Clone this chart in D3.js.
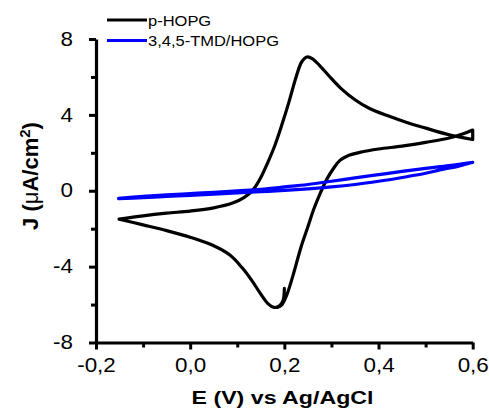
<!DOCTYPE html>
<html><head><meta charset="utf-8">
<script src="https://cdn.jsdelivr.net/npm/d3@7"></script>
<style>body{margin:0;background:#fff}</style>
</head><body><svg id="c" width="489" height="410"></svg>
<script>
const xTicks=[-0.2,0,0.2,0.4,0.6];
const xMinor=[-0.1,0.1,0.3,0.5];
const yTicks=[-8,-4,0,4,8];
const yMinor=[-6,-2,2,6];
const seriesNames=["p-HOPG","3,4,5-TMD/HOPG"];
const seriesColors=["#000000","#0000ff"];

// p-HOPG: cathodic start, anodic sweep, return sweep
const hopgE=[0.2,0.197,0.188,0.178,0.165,0.15,0.13,0.11,0.085,0.05,0.0,-0.05,-0.1,-0.151,
 -0.1,-0.05,0.0,0.05,0.09,0.115,0.135,0.15,0.165,0.18,0.195,0.21,0.225,0.237,0.248,0.26,0.275,0.295,0.32,0.35,0.38,0.42,0.46,0.5,0.55,0.6,
 0.6,0.58,0.55,0.5,0.45,0.4,0.36,0.335,0.318,0.305,0.29,0.275,0.262,0.25,0.235,0.218,0.205,0.195,0.185];
const hopgJ=[-5.15,-5.8,-6.1,-6.15,-5.95,-5.45,-4.7,-4.05,-3.4,-2.9,-2.45,-2.1,-1.8,-1.5,
 -1.32,-1.18,-1.07,-0.9,-0.65,-0.35,0.1,0.7,1.5,2.4,3.5,4.7,6.0,6.8,7.05,6.95,6.6,6.05,5.4,4.8,4.35,3.95,3.6,3.3,2.95,2.7,
 3.2,3.0,2.78,2.55,2.35,2.2,2.02,1.85,1.6,1.2,0.6,-0.2,-1.0,-1.9,-3.0,-4.5,-5.5,-6.0,-6.15];
const hopgBreaks=[0,13,39,40,59]; // sweep vertices

const tmdE=[-0.152,-0.1,-0.05,0,0.05,0.1,0.15,0.2,0.25,0.3,0.35,0.4,0.45,0.5,0.55,0.6,
 0.57,0.53,0.5,0.45,0.4,0.35,0.3,0.25,0.2,0.15,0.1,0.05,0,-0.05,-0.1,-0.152];
const tmdJ=[-0.4,-0.3,-0.22,-0.15,-0.08,0.0,0.08,0.2,0.33,0.5,0.68,0.85,1.02,1.18,1.32,1.5,
 1.3,1.1,0.92,0.7,0.5,0.33,0.2,0.1,0.02,-0.05,-0.12,-0.18,-0.25,-0.3,-0.36,-0.42];
const tmdBreaks=[0,15,32];

const svg=d3.select("#c");
const FONT='"Liberation Sans", Arial, sans-serif';
const x=d3.scaleLinear().domain([-0.2,0.6]).range([96,472.7]);
const y=d3.scaleLinear().domain([-8,8]).range([342.5,39]);

const line=d3.line().x(d=>x(d[0])).y(d=>y(d[1])).curve(d3.curveCatmullRom.alpha(0.5));
function segs(E,J,br){
  const pts=E.map((e,i)=>[e,J[i]]);
  let d="";
  for(let k=0;k<br.length-1;k++){
    d+=line(pts.slice(br[k],br[k+1]+1));
  }
  return d;
}
const paths=[segs(hopgE,hopgJ,hopgBreaks), segs(tmdE,tmdJ,tmdBreaks)];
paths.forEach((d,i)=>{
  svg.append("path").attr("d",d).attr("fill","none")
    .attr("stroke",seriesColors[i]).attr("stroke-width",3.2)
    .attr("stroke-linejoin","round").attr("stroke-linecap","round");
});

// axes
const fmtX=d=>d.toFixed(1).replace(".",",");
const gx=svg.append("g").attr("transform","translate(0,342.5)");
gx.call(d3.axisBottom(x).tickValues(xTicks).tickSize(7).tickSizeOuter(0).tickPadding(9).tickFormat(fmtX));
const gxm=svg.append("g").attr("transform","translate(0,342.5)");
gxm.call(d3.axisBottom(x).tickValues(xMinor).tickSize(5).tickSizeOuter(0).tickFormat(""));
const gy=svg.append("g").attr("transform","translate(96,0)");
gy.call(d3.axisLeft(y).tickValues(yTicks).tickSize(7).tickSizeOuter(0).tickPadding(13).tickFormat(d=>String(d)));
const gym=svg.append("g").attr("transform","translate(96,0)");
gym.call(d3.axisLeft(y).tickValues(yMinor).tickSize(5).tickSizeOuter(0).tickFormat(""));
[gx,gxm,gy,gym].forEach(g=>{
  g.select(".domain").attr("stroke","#000").attr("stroke-width",3.2);
  g.selectAll(".tick line").attr("stroke","#000").attr("stroke-width",3);
  g.selectAll("text").attr("font-family",FONT).attr("font-size",19.5).attr("fill","#000")
    .attr("transform","scale(1.15,1)");
});
gxm.select(".domain").remove(); gym.select(".domain").remove();

// axis titles
svg.append("text").attr("x",0).attr("y",0)
  .attr("transform","translate(282.5,404) scale(1.22,1)")
  .attr("text-anchor","middle").attr("font-family",FONT).attr("font-weight","bold")
  .attr("font-size",19).text("E (V) vs Ag/AgCl");
const yl=svg.append("text").attr("transform","translate(38,176) rotate(-90)")
  .attr("text-anchor","middle").attr("font-family",FONT).attr("font-weight","bold").attr("font-size",22);
yl.append("tspan").text("J (");
yl.append("tspan").attr("font-weight","normal").text("μ");
yl.append("tspan").text("A/cm");
yl.append("tspan").attr("font-size",15).attr("dy",-8).text("2");
yl.append("tspan").attr("dy",8).text(")");

// legend
const leg=svg.append("g");
seriesNames.forEach((n,i)=>{
  const yy=20+i*20.5;
  leg.append("line").attr("x1",107).attr("x2",147).attr("y1",yy).attr("y2",yy)
    .attr("stroke",seriesColors[i]).attr("stroke-width",3.2);
  leg.append("text").attr("transform",`translate(148,${yy+5.5}) scale(1.1,1)`)
    .attr("font-family",FONT).attr("font-size",15).attr("fill","#000").text(n);
});
</script></body></html>
